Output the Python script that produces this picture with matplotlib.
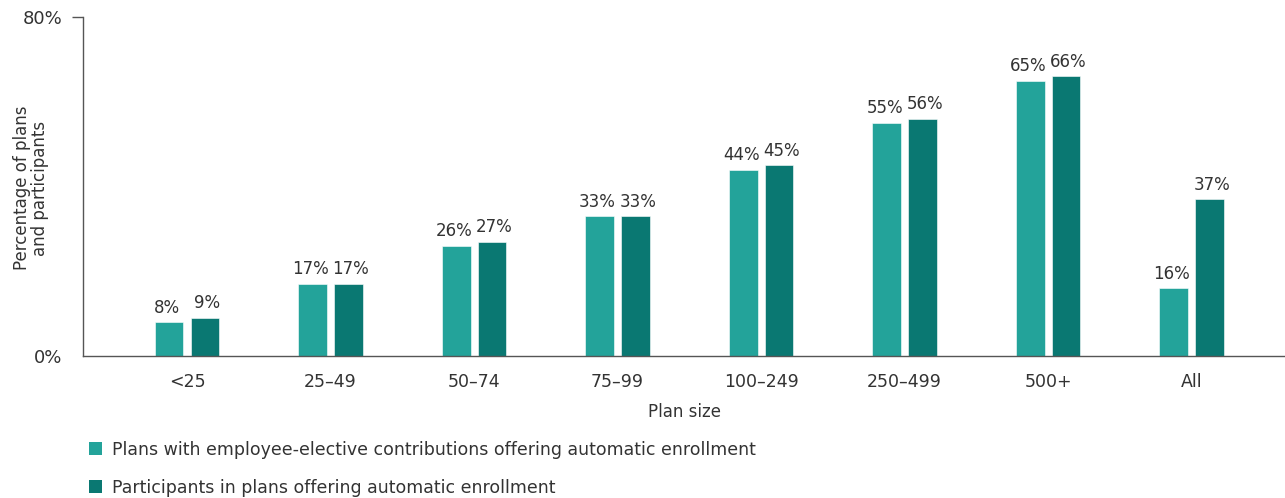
import numpy as np
import matplotlib
matplotlib.use("Agg")
import matplotlib.pyplot as plt
from matplotlib.patches import Patch

plt.rcParams['font.family'] = ['DejaVu Sans']

# data
categories = ['<25', '25–49', '50–74', '75–99', '100–249', '250–499', '500+', 'All']
plans = [8, 17, 26, 33, 44, 55, 65, 16]
participants = [9, 17, 27, 33, 45, 56, 66, 37]
series_names = ['Plans with employee-elective contributions offering automatic enrollment',
                'Participants in plans offering automatic enrollment']

light = '#23A39A'
dark = '#0A7872'
text_col = '#333333'
axis_col = '#555555'

fig = plt.figure(figsize=(12.85, 4.98), dpi=100)
ax = fig.add_axes([83 / 1285, 1 - 356 / 498, 1 - 83 / 1285, (356 - 17) / 498])

x = np.arange(len(categories))
w = 0.2
off = 0.125
b1 = ax.bar(x - off, plans, w, color=light, edgecolor='white', linewidth=0.4)
b2 = ax.bar(x + off, participants, w, color=dark, edgecolor='white', linewidth=0.4)

for bars, vals, dx in ((b1, plans, -1.5), (b2, participants, 1.5)):
    for rect, v in zip(bars, vals):
        ax.annotate(f'{v}%', (rect.get_x() + rect.get_width() / 2, v),
                    xytext=(dx, 4), textcoords='offset points',
                    ha='center', va='bottom', fontsize=12, color=text_col)

ax.set_xlim(-0.725, 7.65)
ax.set_ylim(0, 80)
ax.set_yticks([0, 80])
ax.set_yticklabels(['0%', '80%'])
ax.set_xticks(x)
ax.set_xticklabels(categories)
ax.tick_params(axis='x', length=0, pad=12, labelsize=12.5, colors=text_col)
ax.tick_params(axis='y', length=8, width=1, color=axis_col, pad=7, labelsize=13, labelcolor=text_col)
# no tick mark at 0%, only at the top
ax.yaxis.get_major_ticks()[0].tick1line.set_visible(False)

for s in ('top', 'right'):
    ax.spines[s].set_visible(False)
for s in ('left', 'bottom'):
    ax.spines[s].set_color(axis_col)
    ax.spines[s].set_linewidth(1)

ax.set_xlabel('Plan size', fontsize=12, color=text_col, labelpad=9)
fig.text(31 / 1285, 1 - 188 / 498, 'Percentage of plans\nand participants', rotation=90,
         ha='center', va='center', fontsize=12, color=text_col, linespacing=1.05)

handles = [Patch(facecolor=light), Patch(facecolor=dark)]
fig.legend(handles, series_names, loc='upper left', bbox_to_anchor=(73 / 1285, 1 - 425 / 498),
           frameon=False, fontsize=12.5, handlelength=0.75, handleheight=0.75,
           handletextpad=0.6, labelspacing=1.15, labelcolor=text_col)

fig.savefig('out.png', dpi=100)
